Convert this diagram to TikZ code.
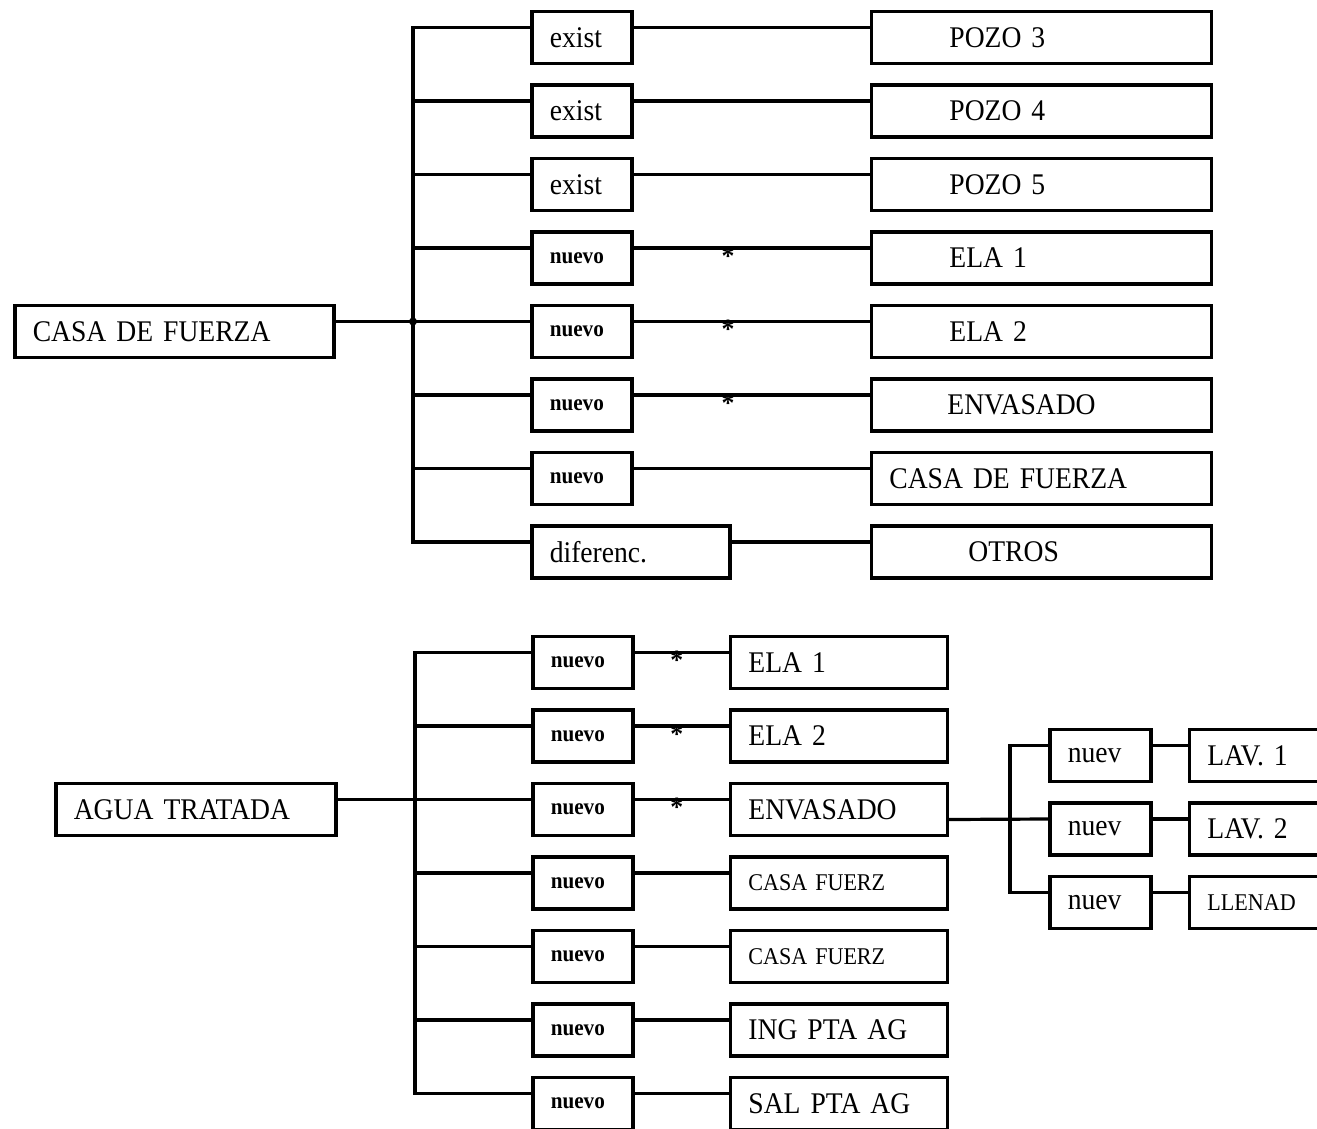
\documentclass[tikz,border=0pt]{standalone}
\usepackage{fontspec}
\setmainfont[FakeStretch=0.92, WordSpace=0.6]{Liberation Serif}
\usetikzlibrary{positioning}
\tikzset{
  box/.style  = {draw=black, line width=1.8pt, minimum height=26pt, inner xsep=9pt,
                 inner ysep=0pt, align=left, anchor=west, font=\fontsize{15}{17}\selectfont},
  mid/.style  = {box, text width=32pt},
  rtop/.style = {box, text width=152pt},
  rbot/.style = {box, text width=90.5pt},
  lav/.style  = {box, text width=150pt},
  tag/.style  = {font=\bfseries\fontsize{11.5}{13}\selectfont},
  small/.style= {font=\fontsize{12}{14}\selectfont},
  ln/.style   = {line width=1.6pt},
  ast/.style  = {inner sep=0pt, font=\bfseries\fontsize{14}{14}\selectfont, yshift=-4pt},
}
\begin{document}
\begin{tikzpicture}[x=0.5pt, y=-0.5pt]
  \useasboundingbox (0,0) rectangle (1317,1129);
  \node[box, text width=141.5pt] (cf) at (13,331.5) {CASA DE FUERZA};
  \node[mid] (t1) at (530,37.5) {exist};
  \node[mid] (t2) at (530,111) {exist};
  \node[mid] (t3) at (530,184.5) {exist};
  \node[mid, tag] (t4) at (530,258) {nuevo};
  \node[mid, tag] (t5) at (530,331.5) {nuevo};
  \node[mid, tag] (t6) at (530,405) {nuevo};
  \node[mid, tag] (t7) at (530,478.5) {nuevo};
  \node[box, text width=81pt] (t8) at (530,552) {diferenc.};
  \node[rtop, right=118pt of t1] (p1) {\hspace*{30pt}POZO 3};
  \node[rtop, right=118pt of t2] (p2) {\hspace*{30pt}POZO 4};
  \node[rtop, right=118pt of t3] (p3) {\hspace*{30pt}POZO 5};
  \node[rtop, right=118pt of t4] (p4) {\hspace*{30pt}ELA 1};
  \node[rtop, right=118pt of t5] (p5) {\hspace*{30pt}ELA 2};
  \node[rtop, right=118pt of t6] (p6) {\hspace*{29pt}ENVASADO};
  \node[rtop, right=118pt of t7] (p7) {CASA DE FUERZA};
  \node[rtop, right=69pt of t8] (p8) {\hspace*{39.5pt}OTROS};
  \coordinate (jt) at (413,321.5);
  \draw[ln] ([yshift=5pt]cf.east) -- ([yshift=5pt]t5.west);
  \draw[ln] ([yshift=5pt]t1.west) -| (jt);
  \draw[ln] ([yshift=5pt]t2.west) -| (jt);
  \draw[ln] ([yshift=5pt]t3.west) -| (jt);
  \draw[ln] ([yshift=5pt]t4.west) -| (jt);
  \draw[ln] ([yshift=5pt]t6.west) -| (jt);
  \draw[ln] ([yshift=5pt]t7.west) -| (jt);
  \draw[ln] ([yshift=5pt]t8.west) -| (jt);
  \fill (jt) circle (2pt);
  \draw[ln] ([yshift=5pt]t1.east) -- ([yshift=5pt]p1.west);
  \draw[ln] ([yshift=5pt]t2.east) -- ([yshift=5pt]p2.west);
  \draw[ln] ([yshift=5pt]t3.east) -- ([yshift=5pt]p3.west);
  \draw[ln] ([yshift=5pt]t4.east) -- node[ast, pos=0.4] {*} ([yshift=5pt]p4.west);
  \draw[ln] ([yshift=5pt]t5.east) -- node[ast, pos=0.4] {*} ([yshift=5pt]p5.west);
  \draw[ln] ([yshift=5pt]t6.east) -- node[ast, pos=0.4] {*} ([yshift=5pt]p6.west);
  \draw[ln] ([yshift=5pt]t7.east) -- ([yshift=5pt]p7.west);
  \draw[ln] ([yshift=5pt]t8.east) -- ([yshift=5pt]p8.west);

  \node[box, text width=122pt] (agua) at (54,809.5) {AGUA TRATADA};
  \node[mid, tag] (u1) at (531,662.5) {nuevo};
  \node[mid, tag] (u2) at (531,736) {nuevo};
  \node[mid, tag] (u3) at (531,809.5) {nuevo};
  \node[mid, tag] (u4) at (531,883) {nuevo};
  \node[mid, tag] (u5) at (531,956.5) {nuevo};
  \node[mid, tag] (u6) at (531,1030) {nuevo};
  \node[mid, tag] (u7) at (531,1103.5) {nuevo};
  \node[rbot, right=47pt of u1] (q1) {ELA 1};
  \node[rbot, right=47pt of u2] (q2) {ELA 2};
  \node[rbot, right=47pt of u3] (q3) {ENVASADO};
  \node[rbot, small, right=47pt of u4] (q4) {CASA FUERZ};
  \node[rbot, small, right=47pt of u5] (q5) {CASA FUERZ};
  \node[rbot, right=47pt of u6] (q6) {ING PTA AG};
  \node[rbot, right=47pt of u7] (q7) {SAL PTA AG};
  \coordinate (jb) at (415,800);
  \draw[ln] ([yshift=5pt]agua.east) -- ([yshift=5pt]u3.west);
  \draw[ln] ([yshift=5pt]u1.west) -| (jb);
  \draw[ln] ([yshift=5pt]u2.west) -| (jb);
  \draw[ln] ([yshift=5pt]u4.west) -| (jb);
  \draw[ln] ([yshift=5pt]u5.west) -| (jb);
  \draw[ln] ([yshift=5pt]u6.west) -| (jb);
  \draw[ln] ([yshift=5pt]u7.west) -| (jb);
  \draw[ln] ([yshift=5pt]u1.east) -- node[ast, pos=0.45] {*} ([yshift=5pt]q1.west);
  \draw[ln] ([yshift=5pt]u2.east) -- node[ast, pos=0.45] {*} ([yshift=5pt]q2.west);
  \draw[ln] ([yshift=5pt]u3.east) -- node[ast, pos=0.45] {*} ([yshift=5pt]q3.west);
  \draw[ln] ([yshift=5pt]u4.east) -- ([yshift=5pt]q4.west);
  \draw[ln] ([yshift=5pt]u5.east) -- ([yshift=5pt]q5.west);
  \draw[ln] ([yshift=5pt]u6.east) -- ([yshift=5pt]q6.west);
  \draw[ln] ([yshift=5pt]u7.east) -- ([yshift=5pt]q7.west);

  \node[box, text width=32.5pt] (n1) at (1048,755.5) {nuev};
  \node[box, text width=32.5pt] (n2) at (1048,829) {nuev};
  \node[box, text width=32.5pt] (n3) at (1048,902.5) {nuev};
  \node[lav, right=17.5pt of n1] (l1) {LAV. 1};
  \node[lav, right=17.5pt of n2] (l2) {LAV. 2};
  \node[lav, small, right=17.5pt of n3] (l3) {LLENAD};
  \coordinate (js) at (1010,819);
  \draw[ln] ([yshift=-5pt]q3.east) -- ([yshift=5pt]n2.west);
  \draw[ln] ([yshift=5pt]n1.west) -| (js);
  \draw[ln] ([yshift=5pt]n3.west) -| (js);
  \draw[ln] ([yshift=5pt]n1.east) -- ([yshift=5pt]l1.west);
  \draw[ln] ([yshift=5pt]n2.east) -- ([yshift=5pt]l2.west);
  \draw[ln] ([yshift=5pt]n3.east) -- ([yshift=5pt]l3.west);
\end{tikzpicture}
\end{document}
